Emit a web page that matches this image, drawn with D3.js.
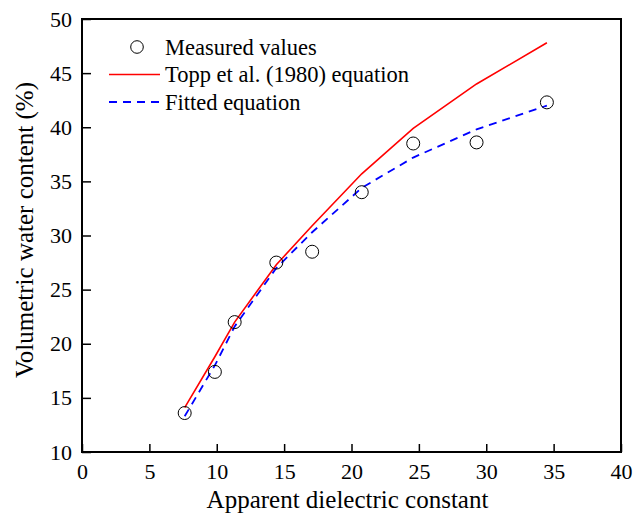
<!DOCTYPE html>
<html>
<head>
<meta charset="utf-8">
<script src="https://cdn.jsdelivr.net/npm/d3@7"></script>
<style>
  body { margin: 0; background: #fff; }
  text { font-family: "Liberation Serif", "Times New Roman", serif; fill: #000; }
</style>
</head>
<body>
<svg id="chart" width="644" height="515"></svg>
<script>
// values
var dielectric = [7.62, 9.86, 11.33, 14.42, 17.08, 20.76, 24.58, 29.28, 34.5];
var measured   = [13.6, 17.4, 22.0, 27.5, 28.5, 34.0, 38.5, 38.6, 42.3];
var topp       = [14.1, 18.8, 22.0, 27.3, 30.9, 35.7, 39.9, 44.0, 47.8];
var fitted     = [13.3, 18.0, 21.6, 27.0, 30.3, 34.4, 37.2, 39.8, 42.0];
var xTicks = [0, 5, 10, 15, 20, 25, 30, 35, 40];
var yTicks = [10, 15, 20, 25, 30, 35, 40, 45, 50];
var legendLabels = ["Measured values", "Topp et al. (1980) equation", "Fitted equation"];

var svg = d3.select("#chart");
var plotL = 82, plotR = 621, plotT = 19, plotB = 452;

var x = d3.scaleLinear().domain([0, 40]).range([plotL, plotR]);
var y = d3.scaleLinear().domain([10, 50]).range([plotB, plotT]);

// axes, ticks pointing inward
var xAxis = svg.append("g")
    .attr("transform", "translate(0," + plotB + ")")
    .call(d3.axisBottom(x).tickValues(xTicks).tickSize(-8).tickPadding(11).tickSizeOuter(0));
var yAxis = svg.append("g")
    .attr("transform", "translate(" + plotL + ",0)")
    .call(d3.axisLeft(y).tickValues(yTicks).tickSize(-9).tickPadding(10).tickSizeOuter(0));

[xAxis, yAxis].forEach(function(g) {
    g.select(".domain").remove();
    g.selectAll(".tick line").attr("stroke", "#000").attr("stroke-width", 1.5);
    g.selectAll(".tick text")
        .style("font-family", '"Liberation Serif", serif')
        .style("font-size", "22px")
        .attr("fill", "#000");
});

// frame
svg.append("rect")
    .attr("x", plotL).attr("y", plotT)
    .attr("width", plotR - plotL).attr("height", plotB - plotT)
    .attr("fill", "none").attr("stroke", "#000").attr("stroke-width", 2);

var pts = dielectric.map(function(d, i) { return i; });

var line = function(vals) {
    return d3.line()
        .x(function(i) { return x(dielectric[i]); })
        .y(function(i) { return y(vals[i]); })(pts);
};

svg.append("path")
    .attr("d", line(topp))
    .attr("fill", "none").attr("stroke", "#ff0000").attr("stroke-width", 1.6);

svg.append("path")
    .attr("d", line(fitted))
    .attr("fill", "none").attr("stroke", "#0000ff").attr("stroke-width", 1.8)
    .attr("stroke-dasharray", "8,6");

svg.selectAll("circle.m")
    .data(pts)
    .enter().append("circle")
    .attr("class", "m")
    .attr("cx", function(i) { return x(dielectric[i]); })
    .attr("cy", function(i) { return y(measured[i]); })
    .attr("r", 6.5)
    .attr("fill", "none").attr("stroke", "#000").attr("stroke-width", 1);

// legend
var lg = svg.append("g");
var rowY = [47, 74.5, 102];
lg.append("circle").attr("cx", 137).attr("cy", rowY[0]).attr("r", 6.3)
    .attr("fill", "none").attr("stroke", "#000").attr("stroke-width", 1);
lg.append("line").attr("x1", 109).attr("x2", 160).attr("y1", rowY[1]).attr("y2", rowY[1])
    .attr("stroke", "#ff0000").attr("stroke-width", 1.6);
lg.append("line").attr("x1", 109).attr("x2", 160).attr("y1", rowY[2]).attr("y2", rowY[2])
    .attr("stroke", "#0000ff").attr("stroke-width", 1.8).attr("stroke-dasharray", "8,6");
lg.selectAll("text")
    .data(legendLabels)
    .enter().append("text")
    .attr("x", 165)
    .attr("y", function(d, i) { return rowY[i] + 7.5; })
    .style("font-size", "22.5px")
    .text(function(d) { return d; });

// axis titles
svg.append("text")
    .attr("x", (plotL + plotR) / 2 - 4).attr("y", 508)
    .attr("text-anchor", "middle")
    .style("font-size", "25px")
    .text("Apparent dielectric constant");

svg.append("text")
    .attr("transform", "translate(33," + 230 + ") rotate(-90)")
    .attr("text-anchor", "middle")
    .style("font-size", "25px")
    .text("Volumetric water content (%)");
</script>
</body>
</html>
